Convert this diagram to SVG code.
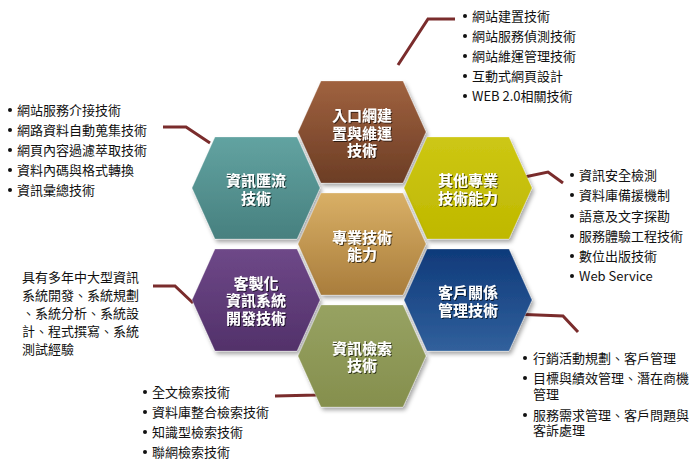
<svg xmlns="http://www.w3.org/2000/svg" width="699" height="466" viewBox="0 0 699 466">
<style>
.lst{font-family:"Noto Sans CJK TC","Noto Sans",sans-serif;font-size:13px;fill:#111}
.lbl{font-family:"Noto Sans CJK TC","Noto Sans",sans-serif;font-size:15px;font-weight:700;fill:#fff;text-anchor:middle;filter:url(#ts)}
.blt{fill:#111}
.con{fill:none;stroke:#7a2c2c;stroke-width:3;stroke-linejoin:miter}
.hex{filter:url(#ds);stroke:#ffffff;stroke-opacity:0.25;stroke-width:1}
</style>
<defs>
<path id="hx" d="M-64 0 L-41 -51 L41 -51 L64 0 L41 51 L-41 51 Z"/>
<filter id="ds" x="-20%" y="-20%" width="140%" height="140%"><feDropShadow dx="2" dy="3" stdDeviation="2" flood-color="#000" flood-opacity="0.35"/></filter>
<filter id="ts" x="-10%" y="-20%" width="120%" height="140%"><feDropShadow dx="1" dy="1" stdDeviation="0.7" flood-color="#000" flood-opacity="0.65"/></filter>
<linearGradient id="gBrown" x1="0" y1="0" x2="0" y2="1"><stop offset="0" stop-color="#a0623f"/><stop offset="1" stop-color="#6c3d25"/></linearGradient>
<linearGradient id="gTeal" x1="0" y1="0" x2="0" y2="1"><stop offset="0" stop-color="#62a3a1"/><stop offset="1" stop-color="#47807f"/></linearGradient>
<linearGradient id="gYellow" x1="0" y1="0" x2="0" y2="1"><stop offset="0" stop-color="#cdc714"/><stop offset="1" stop-color="#bfb800"/></linearGradient>
<linearGradient id="gGold" x1="0" y1="0" x2="0" y2="1"><stop offset="0" stop-color="#d9b066"/><stop offset="1" stop-color="#a97d3c"/></linearGradient>
<linearGradient id="gPurple" x1="0" y1="0" x2="0" y2="1"><stop offset="0" stop-color="#6e4888"/><stop offset="1" stop-color="#52316a"/></linearGradient>
<linearGradient id="gBlue" x1="0" y1="0" x2="0" y2="1"><stop offset="0" stop-color="#0f3a7a"/><stop offset="1" stop-color="#31609c"/></linearGradient>
<linearGradient id="gOlive" x1="0" y1="0" x2="0" y2="1"><stop offset="0" stop-color="#97a262"/><stop offset="1" stop-color="#858f4d"/></linearGradient>
</defs>
<rect width="699" height="466" fill="#fff"/>

<g id="connectors">
<polyline class="con" points="398,65 428,19 455,19"/>
<polyline class="con" points="210,143 186,127 163,127"/>
<polyline class="con" points="515,179 548,172 563,183"/>
<polyline class="con" points="193,303 175,286 153,286"/>
<polyline class="con" points="512,314 563,316 578,332"/>
<polyline class="con" points="335,388 317,395 275,396"/>
</g>

<g id="hex-portal">
<use href="#hx" class="hex" fill="url(#gBrown)" transform="translate(362,132)"/>
<text class="lbl" x="362" y="120.5">入口網建</text>
<text class="lbl" x="362" y="138.5">置與維運</text>
<text class="lbl" x="362" y="156">技術</text>
</g>
<g id="hex-integration">
<use href="#hx" class="hex" fill="url(#gTeal)" transform="translate(256,188)"/>
<text class="lbl" x="256" y="185.5">資訊匯流</text>
<text class="lbl" x="256" y="203.5">技術</text>
</g>
<g id="hex-other">
<use href="#hx" class="hex" fill="url(#gYellow)" transform="translate(468,188)"/>
<text class="lbl" x="468" y="185.5">其他專業</text>
<text class="lbl" x="468" y="203.5">技術能力</text>
</g>
<g id="hex-core">
<use href="#hx" class="hex" fill="url(#gGold)" transform="translate(362,244)"/>
<text class="lbl" x="362" y="242.5">專業技術</text>
<text class="lbl" x="362" y="259.5">能力</text>
</g>
<g id="hex-custom">
<use href="#hx" class="hex" fill="url(#gPurple)" transform="translate(256,300)"/>
<text class="lbl" x="256" y="288.5">客製化</text>
<text class="lbl" x="256" y="305.5">資訊系統</text>
<text class="lbl" x="256" y="323.5">開發技術</text>
</g>
<g id="hex-crm">
<use href="#hx" class="hex" fill="url(#gBlue)" transform="translate(468,300)"/>
<text class="lbl" x="468" y="297.5">客戶關係</text>
<text class="lbl" x="468" y="315.5">管理技術</text>
</g>
<g id="hex-search">
<use href="#hx" class="hex" fill="url(#gOlive)" transform="translate(362,356)"/>
<text class="lbl" x="362" y="353.5">資訊檢索</text>
<text class="lbl" x="362" y="370.5">技術</text>
</g>

<g id="list-portal">
<circle class="blt" cx="465" cy="16" r="2"/><text class="lst" x="472" y="20.5">網站建置技術</text>
<circle class="blt" cx="465" cy="36" r="2"/><text class="lst" x="472" y="40.5">網站服務偵測技術</text>
<circle class="blt" cx="465" cy="56" r="2"/><text class="lst" x="472" y="60.5">網站維運管理技術</text>
<circle class="blt" cx="465" cy="76" r="2"/><text class="lst" x="472" y="80.5">互動式網頁設計</text>
<circle class="blt" cx="465" cy="96" r="2"/><text class="lst" x="472" y="100.5">WEB 2.0相關技術</text>
</g>
<g id="list-integration">
<circle class="blt" cx="10" cy="110" r="2"/><text class="lst" x="17" y="114.5">網站服務介接技術</text>
<circle class="blt" cx="10" cy="130" r="2"/><text class="lst" x="17" y="134.5">網路資料自動蒐集技術</text>
<circle class="blt" cx="10" cy="150" r="2"/><text class="lst" x="17" y="154.5">網頁內容過濾萃取技術</text>
<circle class="blt" cx="10" cy="170" r="2"/><text class="lst" x="17" y="174.5">資料內碼與格式轉換</text>
<circle class="blt" cx="10" cy="190" r="2"/><text class="lst" x="17" y="194.5">資訊彙總技術</text>
</g>
<g id="list-other">
<circle class="blt" cx="572" cy="175" r="2"/><text class="lst" x="579" y="179.5">資訊安全檢測</text>
<circle class="blt" cx="572" cy="195" r="2"/><text class="lst" x="579" y="199.5">資料庫備援機制</text>
<circle class="blt" cx="572" cy="216" r="2"/><text class="lst" x="579" y="220.5">語意及文字探勘</text>
<circle class="blt" cx="572" cy="236" r="2"/><text class="lst" x="579" y="240.5">服務體驗工程技術</text>
<circle class="blt" cx="572" cy="256" r="2"/><text class="lst" x="579" y="260.5">數位出版技術</text>
<circle class="blt" cx="572" cy="276" r="2"/><text class="lst" x="579" y="280.5">Web Service</text>
</g>
<g id="text-custom">
<text class="lst" x="22" y="281.5">具有多年中大型資訊</text>
<text class="lst" x="22" y="299.5">系統開發、系統規劃</text>
<text class="lst" x="22" y="317.5">、系統分析、系統設</text>
<text class="lst" x="22" y="335.5">計、程式撰寫、系統</text>
<text class="lst" x="22" y="354">測試經驗</text>
</g>
<g id="list-crm">
<circle class="blt" cx="525" cy="358" r="2"/><text class="lst" x="533" y="363">行銷活動規劃、客戶管理</text>
<circle class="blt" cx="525" cy="378" r="2"/><text class="lst" x="533" y="383">目標與績效管理、潛在商機</text>
<text class="lst" x="533" y="398.5">管理</text>
<circle class="blt" cx="525" cy="415" r="2"/><text class="lst" x="533" y="419.5">服務需求管理、客戶問題與</text>
<text class="lst" x="533" y="435">客訴處理</text>
</g>
<g id="list-search">
<circle class="blt" cx="145" cy="392" r="2"/><text class="lst" x="152" y="396.5">全文檢索技術</text>
<circle class="blt" cx="145" cy="412" r="2"/><text class="lst" x="152" y="416.5">資料庫整合檢索技術</text>
<circle class="blt" cx="145" cy="432" r="2"/><text class="lst" x="152" y="436.5">知識型檢索技術</text>
<circle class="blt" cx="145" cy="452" r="2"/><text class="lst" x="152" y="456.5">聯網檢索技術</text>
</g>
</svg>
